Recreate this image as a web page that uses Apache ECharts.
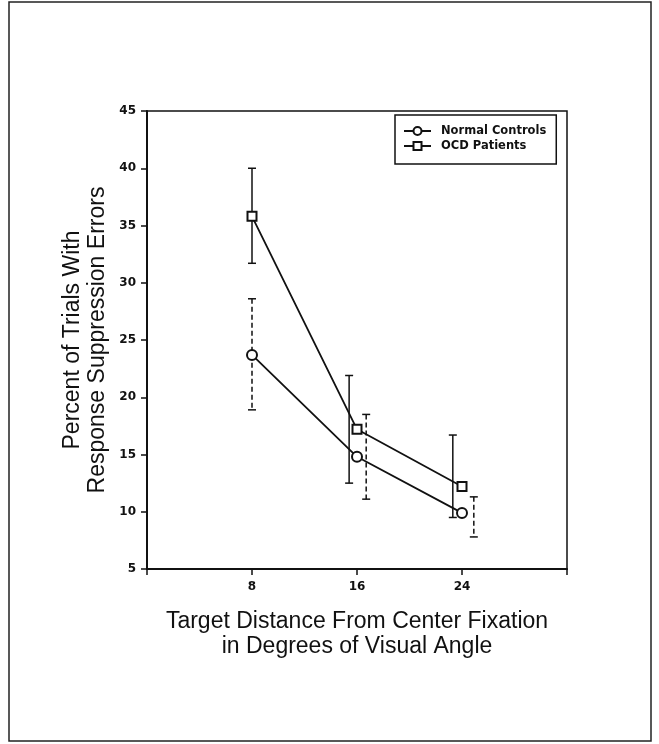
<!DOCTYPE html>
<html lang="en">
<head>
  <meta charset="UTF-8">
  <title>Response Suppression Errors</title>
  <script src="https://cdn.jsdelivr.net/npm/echarts@6/dist/echarts.min.js"></script>
  <style>
    html, body { margin: 0; padding: 0; background: #fff; }
    #chart { width: 659px; height: 744px; }
  </style>
</head>
<body>
<div id="chart"></div>
<script>
// target distance (degrees of visual angle)
const distances = [8, 16, 24];
const xTickLabels = ['8', '16', '24'];
const yTickLabels = ['5', '10', '15', '20', '25', '30', '35', '40', '45'];

// percent of trials with response suppression errors
const controlMean = [23.7, 14.8, 9.9];
const ocdMean = [35.8, 17.2, 12.2];

// error bars (low / high), drawn slightly beside the points as in the figure
const controlLow = [18.9, 11.1, 7.8];
const controlHigh = [28.6, 18.5, 11.3];
const controlBarX = [8, 16.7, 24.9];
const ocdLow = [31.7, 12.5, 9.5];
const ocdHigh = [40.0, 21.9, 16.7];
const ocdBarX = [8, 15.4, 23.3];

const tickFont = { fontFamily: 'DejaVu Sans', fontWeight: 'bold', fontSize: 12, color: '#111' };
const nameFont = { fontFamily: 'Liberation Sans', fontSize: 23, color: '#111', lineHeight: 25 };

function errorSeries(name, xs, lows, highs, dashed) {
  return {
    name: name,
    type: 'custom',
    z: 3,
    data: xs.map((x, i) => [x, lows[i], highs[i]]),
    renderItem: function (params, api) {
      const lo = api.coord([api.value(0), api.value(1)]);
      const hi = api.coord([api.value(0), api.value(2)]);
      const cap = 4;
      const style = { stroke: '#111', lineWidth: 1.5, lineDash: dashed ? [5, 3] : null };
      return {
        type: 'group',
        children: [
          { type: 'line', shape: { x1: hi[0], y1: hi[1], x2: lo[0], y2: lo[1] }, style: style },
          { type: 'line', shape: { x1: hi[0] - cap, y1: hi[1], x2: hi[0] + cap, y2: hi[1] }, style: { stroke: '#111', lineWidth: 1.5 } },
          { type: 'line', shape: { x1: lo[0] - cap, y1: lo[1], x2: lo[0] + cap, y2: lo[1] }, style: { stroke: '#111', lineWidth: 1.5 } }
        ]
      };
    }
  };
}

let myChart = echarts.init(document.getElementById('chart'));
myChart.setOption({
  backgroundColor: '#fff',
  animation: false,
  graphic: [{
    type: 'rect',
    shape: { x: 9, y: 2, width: 642, height: 739 },
    style: { fill: 'none', stroke: '#222', lineWidth: 1.5 }
  }],
  grid: {
    left: 147, top: 111, width: 420, height: 458,
    show: true, borderColor: '#111', borderWidth: 1.5
  },
  legend: {
    data: ['Normal Controls', 'OCD Patients'],
    orient: 'vertical',
    left: 395, top: 115,
    padding: [10, 10, 12, 8],
    itemGap: 3,
    itemWidth: 27,
    itemHeight: 10,
    borderColor: '#111',
    borderWidth: 1.5,
    textStyle: Object.assign({}, tickFont, { fontSize: 11.5, lineHeight: 10, padding: [0, 0, 0, 5] })
  },
  xAxis: {
    type: 'value',
    min: 0, max: 32, interval: 8,
    name: 'Target Distance From Center Fixation\nin Degrees of Visual Angle',
    nameLocation: 'middle',
    nameGap: 40,
    nameTextStyle: nameFont,
    splitLine: { show: false },
    axisLine: { lineStyle: { color: '#111', width: 2 } },
    axisTick: { length: 6, lineStyle: { color: '#111', width: 1.5 } },
    axisLabel: Object.assign({}, tickFont, {
      margin: 12,
      formatter: v => xTickLabels.indexOf(String(v)) >= 0 ? String(v) : ''
    })
  },
  yAxis: {
    type: 'value',
    min: 5, max: 45, interval: 5,
    name: 'Percent of Trials With\nResponse Suppression Errors',
    nameLocation: 'middle',
    nameGap: 37,
    nameMoveOverlap: false,
    nameTextStyle: nameFont,
    splitLine: { show: false },
    axisLine: { lineStyle: { color: '#111', width: 2 } },
    axisTick: { length: 6, lineStyle: { color: '#111', width: 1.5 } },
    axisLabel: Object.assign({}, tickFont, {
      margin: 11,
      formatter: v => yTickLabels.indexOf(String(v)) >= 0 ? String(v) : ''
    })
  },
  series: [
    errorSeries('ocdErr', ocdBarX, ocdLow, ocdHigh, false),
    errorSeries('controlErr', controlBarX, controlLow, controlHigh, true),
    {
      name: 'Normal Controls',
      type: 'line',
      z: 5,
      symbol: 'emptyCircle',
      symbolSize: 10,
      lineStyle: { color: '#111', width: 1.8 },
      itemStyle: { color: '#111', borderWidth: 1.5 },
      data: distances.map((d, i) => [d, controlMean[i]])
    },
    {
      name: 'OCD Patients',
      type: 'line',
      z: 5,
      symbol: 'emptyRect',
      symbolSize: 9,
      lineStyle: { color: '#111', width: 1.8 },
      itemStyle: { color: '#111', borderWidth: 1.5 },
      data: distances.map((d, i) => [d, ocdMean[i]])
    }
  ]
});
window.addEventListener('resize', () => {
  myChart.resize();
});
</script>
</body>
</html>
